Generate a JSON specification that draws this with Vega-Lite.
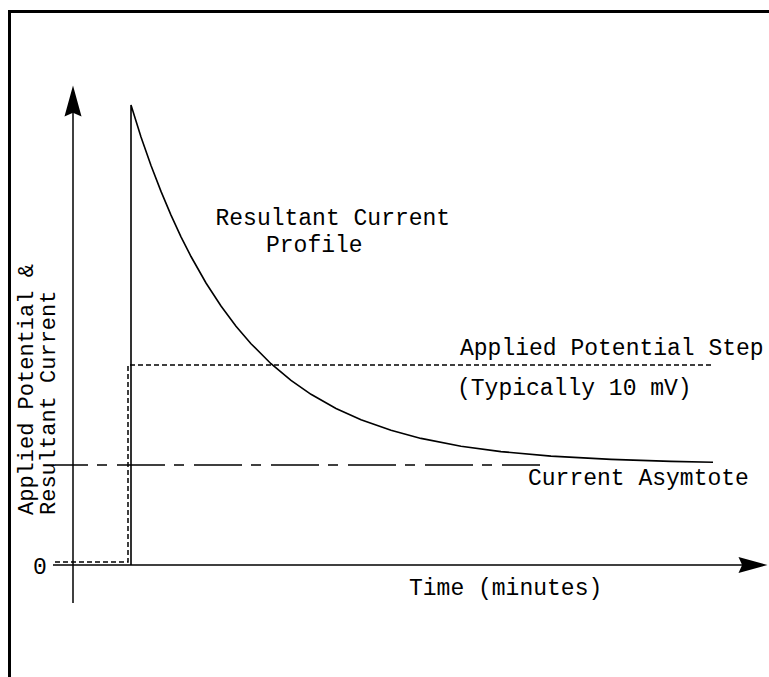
{
  "$schema": "https://vega.github.io/schema/vega-lite/v6.json",
  "width": 769,
  "height": 677,
  "padding": 0,
  "autosize": {"type": "none"},
  "background": "white",
  "config": {"view": {"stroke": null}},
  "datasets": {
    "curve": [
      {"i": 0, "t": 5.8, "v": 0},
      {"i": 1, "t": 5.8, "v": 46.0},
      {"i": 2, "t": 6.8, "v": 42.8},
      {"i": 3, "t": 7.8, "v": 39.95},
      {"i": 4, "t": 8.8, "v": 37.36},
      {"i": 5, "t": 9.8, "v": 34.99},
      {"i": 6, "t": 10.8, "v": 32.82},
      {"i": 7, "t": 11.8, "v": 30.85},
      {"i": 8, "t": 13.3, "v": 28.2},
      {"i": 9, "t": 14.8, "v": 25.9},
      {"i": 10, "t": 16.3, "v": 23.88},
      {"i": 11, "t": 17.8, "v": 22.13},
      {"i": 12, "t": 19.8, "v": 20.13},
      {"i": 13, "t": 21.8, "v": 18.46},
      {"i": 14, "t": 23.8, "v": 17.07},
      {"i": 15, "t": 26.3, "v": 15.65},
      {"i": 16, "t": 28.8, "v": 14.52},
      {"i": 17, "t": 31.8, "v": 13.47},
      {"i": 18, "t": 34.8, "v": 12.66},
      {"i": 19, "t": 38.8, "v": 11.88},
      {"i": 20, "t": 42.8, "v": 11.34},
      {"i": 21, "t": 47.8, "v": 10.89},
      {"i": 22, "t": 53.8, "v": 10.56},
      {"i": 23, "t": 59.8, "v": 10.36},
      {"i": 24, "t": 64.0, "v": 10.28}
    ],
    "step": [
      {"i": 0, "t": -1.8, "v": 0.3},
      {"i": 1, "t": 5.5, "v": 0.3},
      {"i": 2, "t": 5.5, "v": 20.0},
      {"i": 3, "t": 64.0, "v": 20.0}
    ],
    "asymptote": [
      {"i": 0, "t": -1.8, "v": 10.0},
      {"i": 1, "t": 46.7, "v": 10.0}
    ],
    "axes": [
      {"name": "y axis", "t": 0, "v": -3.8, "t2": 0, "v2": 46.0},
      {"name": "x axis", "t": -2.0, "v": 0, "t2": 67.5, "v2": 0}
    ],
    "frame": [
      {"name": "left", "t": -6.35, "v": -11.2, "t2": -6.35, "v2": 55.35},
      {"name": "top", "t": -6.35, "v": 55.35, "t2": 69.6, "v2": 55.35}
    ],
    "labels": [
      {"label": "Resultant Current", "t": 14.25, "v": 34.7},
      {"label": "Profile", "t": 19.3, "v": 32.0},
      {"label": "Applied Potential Step", "t": 38.7, "v": 21.7},
      {"label": "(Typically 10 mV)", "t": 38.4, "v": 17.7},
      {"label": "Current Asymtote", "t": 45.5, "v": 8.7},
      {"label": "Time (minutes)", "t": 33.6, "v": -2.3},
      {"label": "0", "t": -4.0, "v": -0.2}
    ],
    "ytitle": [
      {"label": "Applied Potential &", "t": -4.7, "v": 5.0},
      {"label": "Resultant Current", "t": -2.55, "v": 5.0}
    ]
  },
  "layer": [
    {
      "data": {"name": "frame"},
      "mark": {"type": "rule", "color": "black", "strokeWidth": 3, "strokeCap": "square"},
      "encoding": {
        "x": {"field": "t", "type": "quantitative", "scale": {"domain": [-7.3, 69.6], "nice": false, "zero": false}, "axis": null},
        "y": {"field": "v", "type": "quantitative", "scale": {"domain": [-11.2, 56.5], "nice": false, "zero": false}, "axis": null},
        "x2": {"field": "t2"},
        "y2": {"field": "v2"}
      }
    },
    {
      "data": {"name": "axes"},
      "mark": {"type": "rule", "color": "black", "strokeWidth": 1.5},
      "encoding": {
        "x": {"field": "t", "type": "quantitative"},
        "y": {"field": "v", "type": "quantitative"},
        "x2": {"field": "t2"},
        "y2": {"field": "v2"}
      }
    },
    {
      "data": {"values": [{"t": 0, "v": 46.4}]},
      "mark": {"type": "point", "shape": "M0,-1L0.55,1L0,0.75L-0.55,1Z", "filled": true, "color": "black", "opacity": 1, "size": 961, "angle": 0},
      "encoding": {
        "x": {"field": "t", "type": "quantitative"},
        "y": {"field": "v", "type": "quantitative"}
      }
    },
    {
      "data": {"values": [{"t": 68.0, "v": 0}]},
      "mark": {"type": "point", "shape": "M0,-1L0.55,1L0,0.75L-0.55,1Z", "filled": true, "color": "black", "opacity": 1, "size": 841, "angle": 90},
      "encoding": {
        "x": {"field": "t", "type": "quantitative"},
        "y": {"field": "v", "type": "quantitative"}
      }
    },
    {
      "data": {"name": "asymptote"},
      "mark": {"type": "line", "color": "black", "strokeWidth": 1.5, "strokeDash": [48, 9, 10, 10], "strokeDashOffset": 15},
      "encoding": {
        "x": {"field": "t", "type": "quantitative"},
        "y": {"field": "v", "type": "quantitative"},
        "order": {"field": "i"}
      }
    },
    {
      "data": {"name": "step"},
      "mark": {"type": "line", "color": "black", "strokeWidth": 1.5, "strokeDash": [5, 3]},
      "encoding": {
        "x": {"field": "t", "type": "quantitative"},
        "y": {"field": "v", "type": "quantitative"},
        "order": {"field": "i"}
      }
    },
    {
      "data": {"name": "curve"},
      "mark": {"type": "line", "color": "black", "strokeWidth": 1.6, "interpolate": "linear"},
      "encoding": {
        "x": {"field": "t", "type": "quantitative"},
        "y": {"field": "v", "type": "quantitative"},
        "order": {"field": "i"}
      }
    },
    {
      "data": {"name": "labels"},
      "mark": {"type": "text", "align": "left", "baseline": "middle", "font": "Liberation Mono", "fontSize": 23, "color": "black"},
      "encoding": {
        "x": {"field": "t", "type": "quantitative"},
        "y": {"field": "v", "type": "quantitative"},
        "text": {"field": "label"}
      }
    },
    {
      "data": {"name": "ytitle"},
      "mark": {"type": "text", "align": "left", "baseline": "middle", "angle": -90, "font": "Liberation Mono", "fontSize": 22, "color": "black"},
      "encoding": {
        "x": {"field": "t", "type": "quantitative"},
        "y": {"field": "v", "type": "quantitative"},
        "text": {"field": "label"}
      }
    }
  ]
}
